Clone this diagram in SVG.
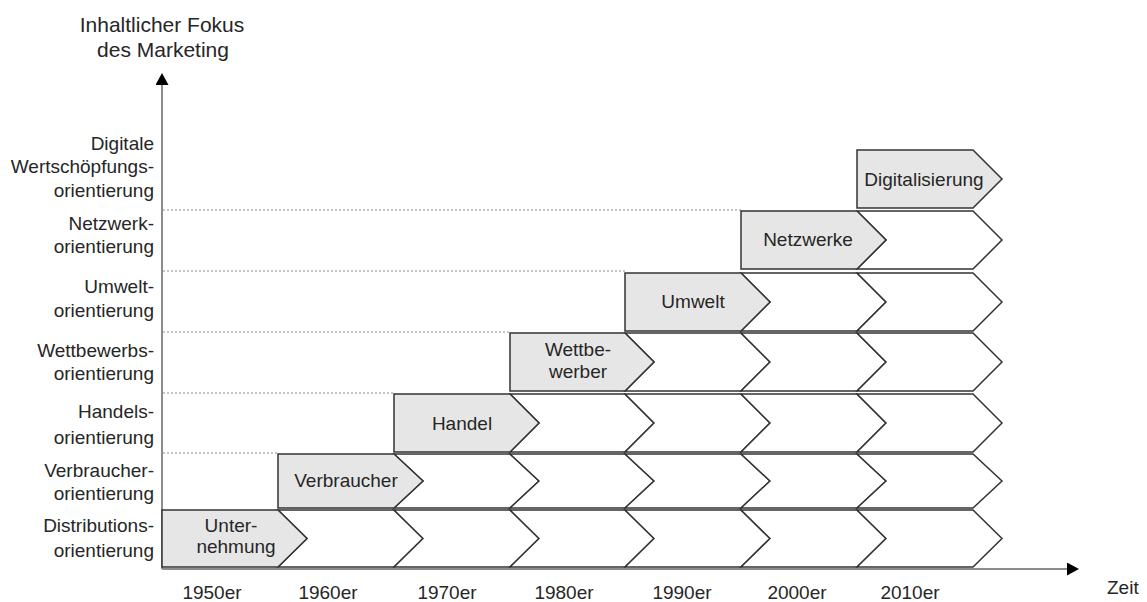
<svg xmlns="http://www.w3.org/2000/svg" width="1147" height="602" viewBox="0 0 1147 602">
<style>
text{font-family:"Liberation Sans",Arial,sans-serif;font-size:19px;fill:#262626}
.lab{text-anchor:end}
.c{text-anchor:middle}
.g{fill:#e7e6e6;stroke:#333;stroke-width:1.5;stroke-linejoin:miter}
.w{fill:#fff;stroke:#333;stroke-width:1.5;stroke-linejoin:miter}
.dot{stroke:#8a8a8a;stroke-width:1;stroke-dasharray:2 2;fill:none}
.ax{stroke:#8c8c8c;stroke-width:2;fill:none}
</style>
<defs>
<marker id="ah" viewBox="0 0 12 13" refX="0" refY="6.5" markerWidth="12" markerHeight="13" markerUnits="userSpaceOnUse" orient="auto">
<path d="M0,0 L12,6.5 L0,13 Z" fill="#000"/>
</marker>
</defs>
<rect width="1147" height="602" fill="#fff"/>
<g id="title">
<text class="c" x="162" y="32" style="font-size:21px">Inhaltlicher Fokus</text>
<text class="c" x="163" y="57" style="font-size:21px">des Marketing</text>
</g>
<g id="connectors">
<line class="ax" x1="162" y1="569" x2="162" y2="85" marker-end="url(#ah)"/>
<line class="ax" x1="162" y1="569" x2="1067" y2="569" marker-end="url(#ah)"/>
<line class="dot" x1="163" y1="210" x2="741" y2="210"/>
<line class="dot" x1="163" y1="271" x2="625" y2="271"/>
<line class="dot" x1="163" y1="332" x2="510" y2="332"/>
<line class="dot" x1="163" y1="393" x2="394" y2="393"/>
<line class="dot" x1="163" y1="453" x2="278" y2="453"/>
</g>
<g id="labels">
<text class="lab" x="154" y="150">Digitale</text>
<text class="lab" x="154" y="173">Wertschöpfungs-</text>
<text class="lab" x="154" y="197">orientierung</text>
<text class="lab" x="154" y="230">Netzwerk-</text>
<text class="lab" x="154" y="253">orientierung</text>
<text class="lab" x="154" y="293">Umwelt-</text>
<text class="lab" x="154" y="317">orientierung</text>
<text class="lab" x="154" y="357">Wettbewerbs-</text>
<text class="lab" x="154" y="380">orientierung</text>
<text class="lab" x="154" y="418">Handels-</text>
<text class="lab" x="154" y="444">orientierung</text>
<text class="lab" x="154" y="477">Verbraucher-</text>
<text class="lab" x="154" y="500">orientierung</text>
<text class="lab" x="154" y="532">Distributions-</text>
<text class="lab" x="154" y="557">orientierung</text>
</g>
<g id="row-distribution">
<polygon class="w" points="278,510 394,510 423,538.5 394,567 278,567 307,538.5"/>
<polygon class="w" points="394,510 510,510 539,538.5 510,567 394,567 423,538.5"/>
<polygon class="w" points="510,510 625,510 654,538.5 625,567 510,567 539,538.5"/>
<polygon class="w" points="625,510 741,510 770,538.5 741,567 625,567 654,538.5"/>
<polygon class="w" points="741,510 857,510 886,538.5 857,567 741,567 770,538.5"/>
<polygon class="w" points="857,510 973,510 1002,538.5 973,567 857,567 886,538.5"/>
<polygon class="g" points="162,510 278,510 307,538.5 278,567 162,567"/>
<text class="c" x="231" y="532">Unter-</text>
<text class="c" x="236" y="553">nehmung</text>
</g>
<g id="row-verbraucher">
<polygon class="w" points="394,454 510,454 539,481 510,508 394,508 423,481"/>
<polygon class="w" points="510,454 625,454 654,481 625,508 510,508 539,481"/>
<polygon class="w" points="625,454 741,454 770,481 741,508 625,508 654,481"/>
<polygon class="w" points="741,454 857,454 886,481 857,508 741,508 770,481"/>
<polygon class="w" points="857,454 973,454 1002,481 973,508 857,508 886,481"/>
<polygon class="g" points="278,454 394,454 423,481 394,508 278,508"/>
<text class="c" x="346" y="487">Verbraucher</text>
</g>
<g id="row-handel">
<polygon class="w" points="510,394 625,394 654,423 625,452 510,452 539,423"/>
<polygon class="w" points="625,394 741,394 770,423 741,452 625,452 654,423"/>
<polygon class="w" points="741,394 857,394 886,423 857,452 741,452 770,423"/>
<polygon class="w" points="857,394 973,394 1002,423 973,452 857,452 886,423"/>
<polygon class="g" points="394,394 510,394 539,423 510,452 394,452"/>
<text class="c" x="462" y="430">Handel</text>
</g>
<g id="row-wettbewerb">
<polygon class="w" points="625,333 741,333 770,362 741,391 625,391 654,362"/>
<polygon class="w" points="741,333 857,333 886,362 857,391 741,391 770,362"/>
<polygon class="w" points="857,333 973,333 1002,362 973,391 857,391 886,362"/>
<polygon class="g" points="510,333 625,333 654,362 625,391 510,391"/>
<text class="c" x="578" y="356">Wettbe-</text>
<text class="c" x="578" y="378">werber</text>
</g>
<g id="row-umwelt">
<polygon class="w" points="741,273 857,273 886,302 857,331 741,331 770,302"/>
<polygon class="w" points="857,273 973,273 1002,302 973,331 857,331 886,302"/>
<polygon class="g" points="625,273 741,273 770,302 741,331 625,331"/>
<text class="c" x="693" y="308">Umwelt</text>
</g>
<g id="row-netzwerk">
<polygon class="w" points="857,211 973,211 1002,240 973,269 857,269 886,240"/>
<polygon class="g" points="741,211 857,211 886,240 857,269 741,269"/>
<text class="c" x="808" y="246">Netzwerke</text>
</g>
<g id="row-digital">
<polygon class="g" points="857,150 973,150 1002,179 973,208 857,208"/>
<text class="c" x="924" y="186">Digitalisierung</text>
</g>
<g id="years">
<text class="c" x="212" y="599">1950er</text>
<text class="c" x="328" y="599">1960er</text>
<text class="c" x="447" y="599">1970er</text>
<text class="c" x="564" y="599">1980er</text>
<text class="c" x="682" y="599">1990er</text>
<text class="c" x="797" y="599">2000er</text>
<text class="c" x="910" y="599">2010er</text>
<text x="1107" y="594">Zeit</text>
</g>
</svg>
